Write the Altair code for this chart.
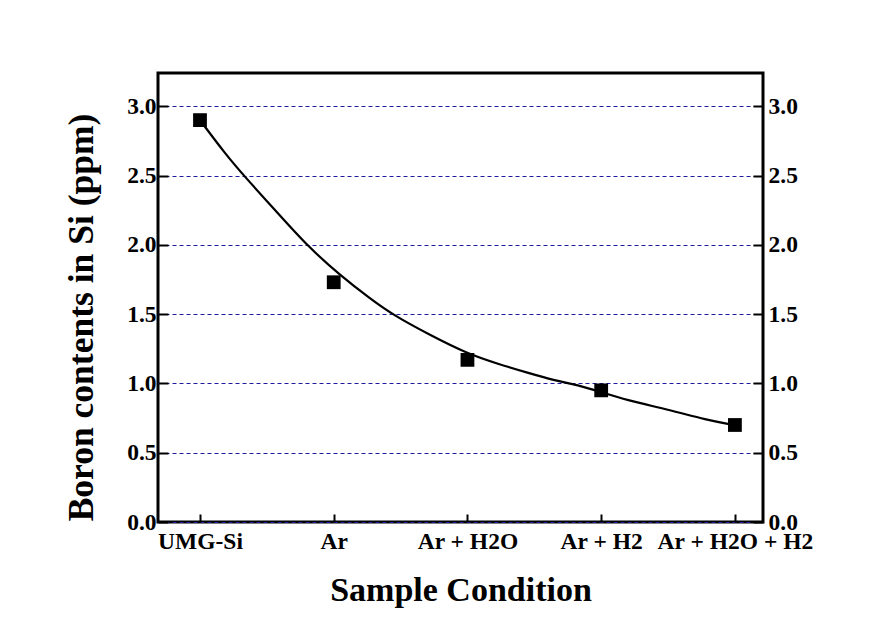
import altair as alt
import pandas as pd

# ---- data ----
categories = ["UMG-Si", "Ar", "Ar + H2O", "Ar + H2", "Ar + H2O + H2"]
positions = [1, 2, 3, 4, 5]
boron_ppm = [2.90, 1.73, 1.17, 0.95, 0.70]

# smooth fitted curve
curve_x = [1.00, 1.187, 1.336, 1.585, 1.81, 2.047, 2.271, 2.445, 2.72, 2.994,
           3.218, 3.467, 3.642, 3.83, 3.99, 4.19, 4.514, 4.788, 4.99]
curve_y = [2.90, 2.659, 2.490, 2.226, 1.985, 1.781, 1.613, 1.493, 1.349, 1.217,
           1.144, 1.072, 1.024, 0.988, 0.940, 0.880, 0.808, 0.736, 0.70]

y_ticks = [0.0, 0.5, 1.0, 1.5, 2.0, 2.5, 3.0]
x_domain = [0.686, 5.21]
y_domain = [0.0, 3.24]

pts = pd.DataFrame({"x": positions, "y": boron_ppm, "cat": categories})
curve = pd.DataFrame({"x": curve_x, "y": curve_y})

FONT = "Liberation Serif"
label_expr = "[" + ",".join("'" + c + "'" for c in categories) + "][datum.value - 1]"

x_enc = alt.X(
    "x:Q",
    scale=alt.Scale(domain=x_domain, nice=False, zero=False),
    axis=alt.Axis(
        values=positions,
        labelExpr=label_expr,
        title="Sample Condition",
        titleFontSize=34,
        titleFont=FONT,
        titleFontWeight="bold",
        titlePadding=21,
        labelFont=FONT,
        labelFontWeight="bold",
        labelFontSize=23.5,
        labelPadding=7,
        labelColor="black",
        titleColor="black",
        offset=-8,
        tickSize=8,
        tickWidth=2,
        tickColor="black",
        domain=False,
        grid=False,
        labelFlush=False,
    ),
)

line = alt.Chart(curve).mark_line(color="black", strokeWidth=2.2, interpolate="basis").encode(
    x=x_enc,
    y=alt.Y(
        "y:Q",
        scale=alt.Scale(domain=y_domain, nice=False),
        axis=alt.Axis(
            values=y_ticks,
            format=".1f",
            title="Boron contents in Si (ppm)",
            titleFontSize=35.5,
            titleFont=FONT,
            titleFontWeight="bold",
            titlePadding=27,
            titleY=244,
            titleColor="black",
            labelFont=FONT,
            labelFontWeight="bold",
            labelFontSize=23.5,
            labelColor="black",
            labelPadding=2,
            offset=-10,
            tickSize=10,
            tickWidth=2,
            tickColor="black",
            domain=False,
            grid=True,
            gridColor="#1c1c9c",
            gridDash=[4, 3],
            gridWidth=1,
        ),
    ),
)

points = alt.Chart(pts).mark_point(shape="square", filled=True, color="black", size=190, opacity=1).encode(
    x=alt.X("x:Q", scale=alt.Scale(domain=x_domain, nice=False, zero=False)),
    y=alt.Y(
        "y:Q",
        scale=alt.Scale(domain=y_domain, nice=False),
        axis=alt.Axis(
            orient="right",
            values=y_ticks,
            format=".1f",
            title="",
            labelFont=FONT,
            labelFontWeight="bold",
            labelFontSize=23.5,
            labelColor="black",
            labelPadding=5,
            offset=-10,
            tickSize=10,
            tickWidth=2,
            tickColor="black",
            domain=False,
            grid=False,
        ),
    ),
)

chart = (
    alt.layer(line, points)
    .resolve_scale(y="independent")
    .properties(
        width=605,
        height=449,
        autosize=alt.AutoSizeParams(type="none"),
        padding={"left": 150, "top": 65, "right": 100, "bottom": 90},
        background="white",
    )
    .configure_view(stroke="black", strokeWidth=3)
)

chart.save("out.html", embed_options={"renderer": "svg", "actions": False})
